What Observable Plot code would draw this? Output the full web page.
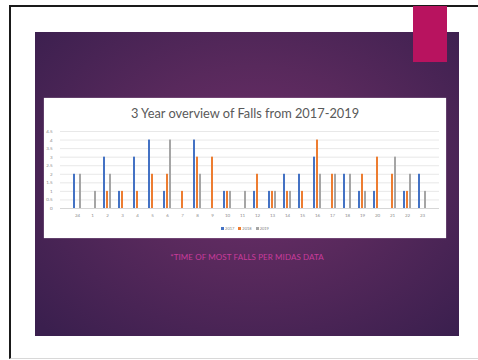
<!DOCTYPE html>
<html><head><meta charset="utf-8">
<script src="https://cdn.jsdelivr.net/npm/d3@7"></script>
<script src="https://cdn.jsdelivr.net/npm/@observablehq/plot@0.6"></script>
<style>
body{margin:0;width:478px;height:360px;background:#fff;position:relative;overflow:hidden;font-family:Lato,sans-serif}
#frame{position:absolute;left:9px;top:5px;width:480px;height:351px;border-left:2px solid #1a1a1a;border-top:2px solid #1a1a1a;border-bottom:1px solid #d8d8d8}
#slide{position:absolute;left:35px;top:32px;width:424px;height:304px;background:radial-gradient(ellipse 70% 75% at 52% 45%, #6e2e6a 0%, #58295c 45%, #3a1f4e 100%)}
#tab{position:absolute;left:413px;top:6px;width:34px;height:56px;background:#b8135f}
#card{position:absolute;left:44px;top:98px;width:402px;height:140px;background:#fff;box-shadow:0 0 1px #d9c9dc}
#title{position:absolute;left:0;top:7px;width:100%;text-align:center;font-size:12.8px;color:#595959;font-family:Lato,sans-serif}
.plot{position:absolute;left:0;top:26px}
#legend{position:absolute;left:0;top:128px;width:100%;text-align:center;font-size:4px;color:#7f7f7f}
#legend span{margin:0 2px}
#legend i{display:inline-block;width:3px;height:3px;margin-right:1px;vertical-align:middle}
#caption{position:absolute;left:35px;width:424px;top:252px;text-align:center;color:#c93b9c;font-size:8px;font-family:Lato,sans-serif;letter-spacing:0.1px}
</style></head>
<body>
<div id="frame"></div>
<div id="slide"></div>
<div id="tab"></div>
<div id="card">
  <div id="title">3 Year overview of Falls from 2017-2019</div>
  <div id="legend"></div>
</div>
<div id="caption">*TIME OF MOST FALLS PER MIDAS DATA</div>
<script>
const hours = ["24","1","2","3","4","5","6","7","8","9","10","11","12","13","14","15","16","17","18","19","20","21","22","23"];
const years = ["2017","2018","2019"];
const colors = ["#4472C4","#ED7D31","#A5A5A5"];
const v2017 = [2,0,3,1,3,4,1,0,4,0,1,0,1,1,2,2,3,0,2,1,1,0,1,2];
const v2018 = [0,0,1,1,1,2,2,1,3,3,1,0,2,1,1,1,4,2,0,2,3,2,1,0];
const v2019 = [2,1,2,0,0,0,4,0,2,0,1,1,0,1,1,0,2,2,2,1,0,3,2,1];
const yTicks = [0,0.5,1,1.5,2,2.5,3,3.5,4,4.5];

const series = [v2017, v2018, v2019];
const data = [];
hours.forEach((h, i) => years.forEach((y, j) => data.push({hour: h, year: y, value: series[j][i]})));

const W = 402, H = 100, M = {marginLeft: 16, marginRight: 7, marginTop: 7, marginBottom: 16};
const PI = 0.33, PO = 0.165;

const base = Plot.plot({
  width: W, height: H, ...M,
  style: {background: "transparent", fontSize: "4.5px", color: "#8c8c8c", fontFamily: "Lato"},
  x: {domain: hours, paddingInner: PI, paddingOuter: PO, tickSize: 0, tickPadding: 5, label: null},
  y: {domain: [0, 4.5], ticks: yTicks, tickFormat: d => String(d), tickSize: 0, tickPadding: 8, label: null},
  marks: [
    Plot.ruleY(yTicks, {stroke: "#e2e2e2", strokeWidth: 0.8}),
    Plot.ruleY([0], {stroke: "#d0d0d0", strokeWidth: 0.8})
  ]
});
base.classList.add("plot");

const bars = Plot.plot({
  width: W, height: H, ...M,
  style: {background: "transparent"},
  fx: {domain: hours, paddingInner: PI, paddingOuter: PO, axis: null},
  x: {domain: years, axis: null, padding: 0.22},
  y: {domain: [0, 4.5], axis: null},
  color: {domain: years, range: colors},
  marks: [Plot.barY(data, {fx: "hour", x: "year", y: "value", fill: "year"})]
});
bars.classList.add("plot");

const card = document.getElementById("card");
card.appendChild(base);
card.appendChild(bars);

const legend = document.getElementById("legend");
years.forEach((y, j) => {
  const s = document.createElement("span");
  s.innerHTML = `<i style="background:${colors[j]}"></i>${y}`;
  legend.appendChild(s);
});
</script>
</body></html>
